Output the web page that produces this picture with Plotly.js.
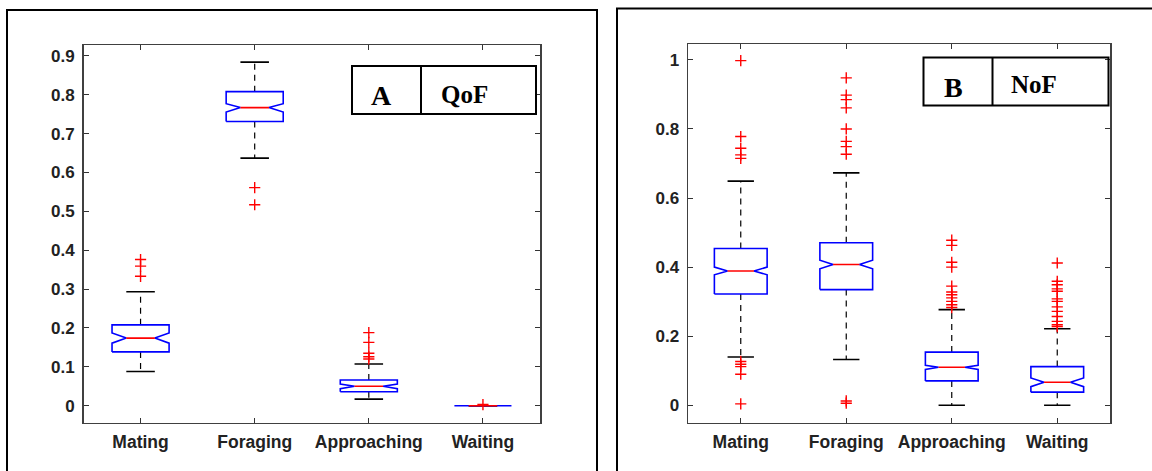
<!DOCTYPE html>
<html>
<head>
<meta charset="utf-8">
<script src="https://cdn.plot.ly/plotly-3.0.1.min.js"></script>
<style>
  html, body { margin: 0; padding: 0; background: #fff; }
  #chart { width: 1152px; height: 471px; }
</style>
</head>
<body>
<div id="chart"></div>
<script>
// Behaviour categories shared by both panels
const categories = ['Mating', 'Foraging', 'Approaching', 'Waiting'];

// Panel A: QoF box statistics
const qofLowerWhisker = [0.088, 0.637, 0.017, 0];
const qofQ1           = [0.1385, 0.731, 0.036, 0];
const qofNotchLow     = [0.161, 0.7555, 0.044, 0];
const qofMedian       = [0.174, 0.767, 0.050, 0];
const qofNotchHigh    = [0.187, 0.777, 0.056, 0];
const qofQ3           = [0.208, 0.808, 0.066, 0];
const qofUpperWhisker = [0.293, 0.884, 0.1075, 0];
const qofOutliers = [
  [0.333, 0.359, 0.376],
  [0.561, 0.517],
  [0.188, 0.163, 0.135, 0.126, 0.120],
  [0.003]
];
const qofTicks = [0, 0.1, 0.2, 0.3, 0.4, 0.5, 0.6, 0.7, 0.8, 0.9];

// Panel B: NoF box statistics
const nofLowerWhisker = [0.140, 0.1325, 0, 0];
const nofQ1           = [0.322, 0.335, 0.0706, 0.038];
const nofNotchLow     = [0.378, 0.395, 0.1035, 0.054];
const nofMedian       = [0.389, 0.4075, 0.110, 0.0668];
const nofNotchHigh    = [0.400, 0.420, 0.116, 0.079];
const nofQ3           = [0.454, 0.4705, 0.154, 0.112];
const nofUpperWhisker = [0.649, 0.673, 0.277, 0.2216];
const nofOutliers = [
  [0.998, 0.778, 0.744, 0.725, 0.715, 0.127, 0.119, 0.112, 0.090, 0.004],
  [0.948, 0.898, 0.885, 0.861, 0.800, 0.764, 0.749, 0.727, 0.0125, 0.006],
  [0.478, 0.463, 0.414, 0.400, 0.345, 0.328, 0.320, 0.311, 0.301, 0.291, 0.283],
  [0.412, 0.359, 0.349, 0.337, 0.330, 0.308, 0.301, 0.285, 0.272, 0.257, 0.243, 0.233, 0.228]
];
const nofTicks = [0, 0.2, 0.4, 0.6, 0.8, 1];

// Drawing style
const BOX_WIDTH = 0.5;
const FIG_W = 1152, FIG_H = 471;
const px = v => v / FIG_W;
const py = v => 1 - v / FIG_H;

function boxTraces(s, xa, ya) {
  const half = BOX_WIDTH / 2, inset = BOX_WIDTH / 4, cap = BOX_WIDTH / 4;
  const wx = [], wy = [], cx = [], cy = [], bx = [], by = [], mx = [], my = [], ox = [], oy = [];
  categories.forEach((c, i) => {
    const p = i + 1, x0 = p - half, x1 = p + half;
    // dashed whiskers
    wx.push(p, p, null, p, p, null);
    wy.push(s.q3[i], s.uw[i], null, s.q1[i], s.lw[i], null);
    // whisker caps
    cx.push(p - cap, p + cap, null, p - cap, p + cap, null);
    cy.push(s.uw[i], s.uw[i], null, s.lw[i], s.lw[i], null);
    // notched box outline
    bx.push(x0, x0, x0 + inset, x0, x0, x1, x1, x1 - inset, x1, x1, x0, null);
    by.push(s.q1[i], s.nlo[i], s.med[i], s.nhi[i], s.q3[i], s.q3[i], s.nhi[i], s.med[i], s.nlo[i], s.q1[i], s.q1[i], null);
    // median
    mx.push(x0 + inset, x1 - inset, null);
    my.push(s.med[i], s.med[i], null);
    // outliers
    s.out[i].forEach(v => { ox.push(p); oy.push(v); });
  });
  const common = { xaxis: xa, yaxis: ya, hoverinfo: 'skip', showlegend: false };
  return [
    Object.assign({ type: 'scatter', mode: 'lines', x: wx, y: wy, line: { color: '#000', width: 1.2, dash: '6px,5px' } }, common),
    Object.assign({ type: 'scatter', mode: 'lines', x: cx, y: cy, line: { color: '#000', width: 1.6 } }, common),
    Object.assign({ type: 'scatter', mode: 'lines', x: bx, y: by, line: { color: '#0000ff', width: 1.6 } }, common),
    Object.assign({ type: 'scatter', mode: 'lines', x: mx, y: my, line: { color: '#ff0000', width: 1.6 } }, common),
    Object.assign({ type: 'scatter', mode: 'markers', x: ox, y: oy,
      marker: { symbol: 'cross-thin', size: 8, color: '#ff0000', line: { color: '#ff0000', width: 1.4 } } }, common)
  ];
}

const qofStats = { lw: qofLowerWhisker, q1: qofQ1, nlo: qofNotchLow, med: qofMedian, nhi: qofNotchHigh, q3: qofQ3, uw: qofUpperWhisker, out: qofOutliers };
const nofStats = { lw: nofLowerWhisker, q1: nofQ1, nlo: nofNotchLow, med: nofMedian, nhi: nofNotchHigh, q3: nofQ3, uw: nofUpperWhisker, out: nofOutliers };

const data = [].concat(boxTraces(qofStats, 'x', 'y'), boxTraces(nofStats, 'x2', 'y2'));

const yTickFont = { family: 'Liberation Sans, Arial, sans-serif', size: 17, weight: 'bold', color: '#222' };
const xTickFont = { family: 'Liberation Sans, Arial, sans-serif', size: 17.5, weight: 'bold', color: '#222' };
function xAxis(domain, anchor) {
  return {
    domain: domain, anchor: anchor, range: [0.5, 4.5],
    tickvals: categories.map((c, i) => i + 1), ticktext: categories, tickangle: 0,
    ticks: 'inside', ticklen: 5, tickwidth: 1, tickcolor: '#333',
    showline: true, linecolor: '#404040', linewidth: 1.5, mirror: 'ticks',
    showgrid: false, zeroline: false, tickfont: xTickFont, ticklabelstandoff: 3, fixedrange: true
  };
}
function yAxis(domain, anchor, range, ticks) {
  return {
    domain: domain, anchor: anchor, range: range,
    tickvals: ticks, ticktext: ticks.map(String),
    ticks: 'inside', ticklen: 5, tickwidth: 1, tickcolor: '#333',
    showline: true, linecolor: '#404040', linewidth: 1.5, mirror: 'ticks',
    showgrid: false, zeroline: false, tickfont: yTickFont, ticklabelstandoff: 4, fixedrange: true
  };
}

const frame = (x0, y0, x1, y1, w) => ({ type: 'rect', xref: 'paper', yref: 'paper',
  x0: px(x0), x1: px(x1), y0: py(y0), y1: py(y1), line: { color: '#000', width: w }, fillcolor: 'rgba(0,0,0,0)' });
const vline = (x, y0, y1) => ({ type: 'line', xref: 'paper', yref: 'paper',
  x0: px(x), x1: px(x), y0: py(y0), y1: py(y1), line: { color: '#000', width: 2 } });

const serif = (size) => ({ family: 'Liberation Serif, Times New Roman, serif', size: size, weight: 'bold', color: '#000' });
const label = (text, x, y, size) => ({ text: text, xref: 'paper', yref: 'paper', x: px(x), y: py(y),
  xanchor: 'center', yanchor: 'middle', showarrow: false, font: serif(size) });

const layout = {
  width: FIG_W, height: FIG_H,
  margin: { l: 0, r: 0, t: 0, b: 0 },
  paper_bgcolor: '#fff', plot_bgcolor: '#fff',
  xaxis: xAxis([px(83.5), px(540)], 'y'),
  yaxis: yAxis([py(422.7), py(45)], 'x', [-0.0437, 0.928], qofTicks),
  xaxis2: xAxis([px(688), px(1110)], 'y2'),
  yaxis2: yAxis([py(422.7), py(44)], 'x2', [-0.0504, 1.046], nofTicks),
  shapes: [
    // figure frames
    frame(7, 10, 597, 480, 2),
    frame(617, 8.5, 1170, 480, 2),
    // panel labels
    frame(352, 66, 536, 114, 2),
    vline(421, 66, 114),
    frame(923.5, 57.5, 1108.5, 105.5, 2),
    vline(992.5, 57.5, 105.5)
  ],
  annotations: [
    label('A', 381, 96, 28),
    label('QoF', 464, 95, 25),
    label('B', 953.5, 88, 28),
    label('NoF', 1034, 85, 25)
  ]
};

Plotly.newPlot('chart', data, layout, { displayModeBar: false, staticPlot: true });
</script>
</body>
</html>
